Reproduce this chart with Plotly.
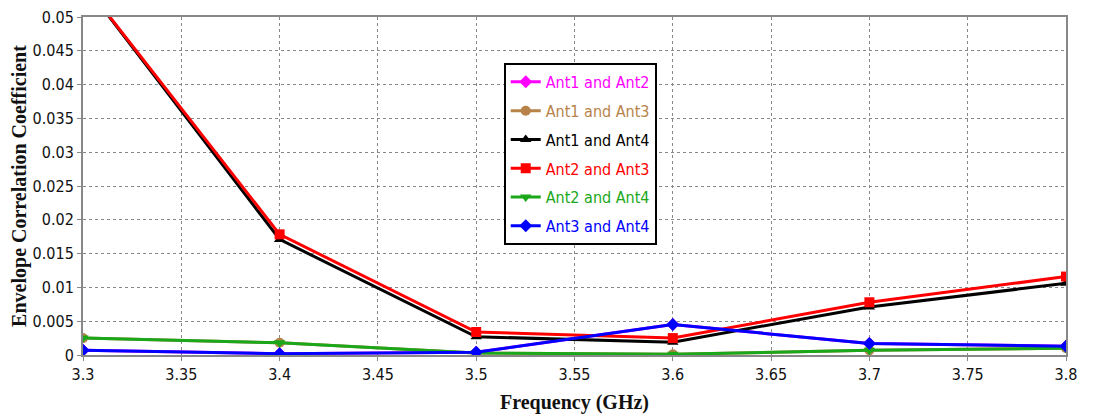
import plotly.graph_objects as go

freq = [3.3, 3.4, 3.5, 3.6, 3.7, 3.8]

ant1_ant2 = [0.0007, 0.0002, 0.0004, 0.0045, 0.0017, 0.0013]
ant1_ant3 = [0.0025, 0.0018, 0.0003, 0.0001, 0.0007, 0.0010]
ant1_ant4 = [0.0551, 0.0171, 0.0027, 0.0019, 0.0071, 0.0106]
ant2_ant3 = [0.0551, 0.01785, 0.0034, 0.0025, 0.0078, 0.0116]
ant2_ant4 = [0.0025, 0.0018, 0.0003, 0.0001, 0.0007, 0.0010]
ant3_ant4 = [0.0007, 0.0002, 0.0004, 0.0045, 0.0017, 0.0013]

names = ["Ant1 and Ant2", "Ant1 and Ant3", "Ant1 and Ant4",
         "Ant2 and Ant3", "Ant2 and Ant4", "Ant3 and Ant4"]
series = [ant1_ant2, ant1_ant3, ant1_ant4, ant2_ant3, ant2_ant4, ant3_ant4]
colors = ["#ff00ff", "#b8834a", "#000000", "#ff0000", "#1aa81a", "#0000ff"]
symbols = ["diamond", "circle", "triangle-up", "square", "triangle-down", "diamond"]

x_ticks = [3.3, 3.35, 3.4, 3.45, 3.5, 3.55, 3.6, 3.65, 3.7, 3.75, 3.8]
x_ticktext = ["3.3", "3.35", "3.4", "3.45", "3.5", "3.55", "3.6", "3.65", "3.7", "3.75", "3.8"]
y_ticks = [0, 0.005, 0.01, 0.015, 0.02, 0.025, 0.03, 0.035, 0.04, 0.045, 0.05]
y_ticktext = ["0", "0.005", "0.01", "0.015", "0.02", "0.025", "0.03", "0.035", "0.04", "0.045", "0.05"]

fig = go.Figure()
for i, (nm, ys, c, s) in enumerate(zip(names, series, colors, symbols)):
    fig.add_trace(go.Scatter(
        x=freq, y=ys, mode="lines+markers",
        name=f"<span style='color:{c}'>{nm}</span>",
        legendgroup=f"g{i}",
        line=dict(color=c, width=3),
        marker=dict(color=c, symbol=s, size=10),
    ))

tick_font = dict(family="DejaVu Sans Condensed, DejaVu Sans", size=16, color="#111")
title_font = dict(family="Liberation Serif", size=20, color="#111")

fig.update_layout(
    width=1094, height=417,
    margin=dict(l=75, r=36, t=9, b=70),
    paper_bgcolor="white", plot_bgcolor="white",
    showlegend=True,
    legend=dict(
        x=0.428, y=0.864, xanchor="left", yanchor="top",
        bgcolor="white", bordercolor="#000", borderwidth=2,
        font=dict(family="DejaVu Sans Condensed, DejaVu Sans", size=16),
        tracegroupgap=5,
    ),
    xaxis=dict(
        range=[3.3, 3.8], tickvals=x_ticks, ticktext=x_ticktext,
        showgrid=True, gridcolor="#888", griddash="dot", gridwidth=1,
        showline=True, linecolor="#888", linewidth=2, mirror=True,
        ticks="outside", ticklen=4, tickcolor="#888",
        tickfont=tick_font, zeroline=False, automargin=False,
        ticklabeloverflow="allow",
        title=dict(text="<b>Frequency (GHz)</b>", font=title_font, standoff=12),
    ),
    yaxis=dict(
        range=[0, 0.05], tickvals=y_ticks, ticktext=y_ticktext,
        showgrid=True, gridcolor="#888", griddash="dot", gridwidth=1,
        showline=True, linecolor="#888", linewidth=2, mirror=True,
        ticks="outside", ticklen=4, tickcolor="#888",
        tickfont=tick_font, zeroline=False, automargin=False,
        ticklabeloverflow="allow",
        title=dict(text="<b>Envelope Correlation Coefficient</b>", font=title_font, standoff=4),
    ),
)

fig.write_html("out.html")
